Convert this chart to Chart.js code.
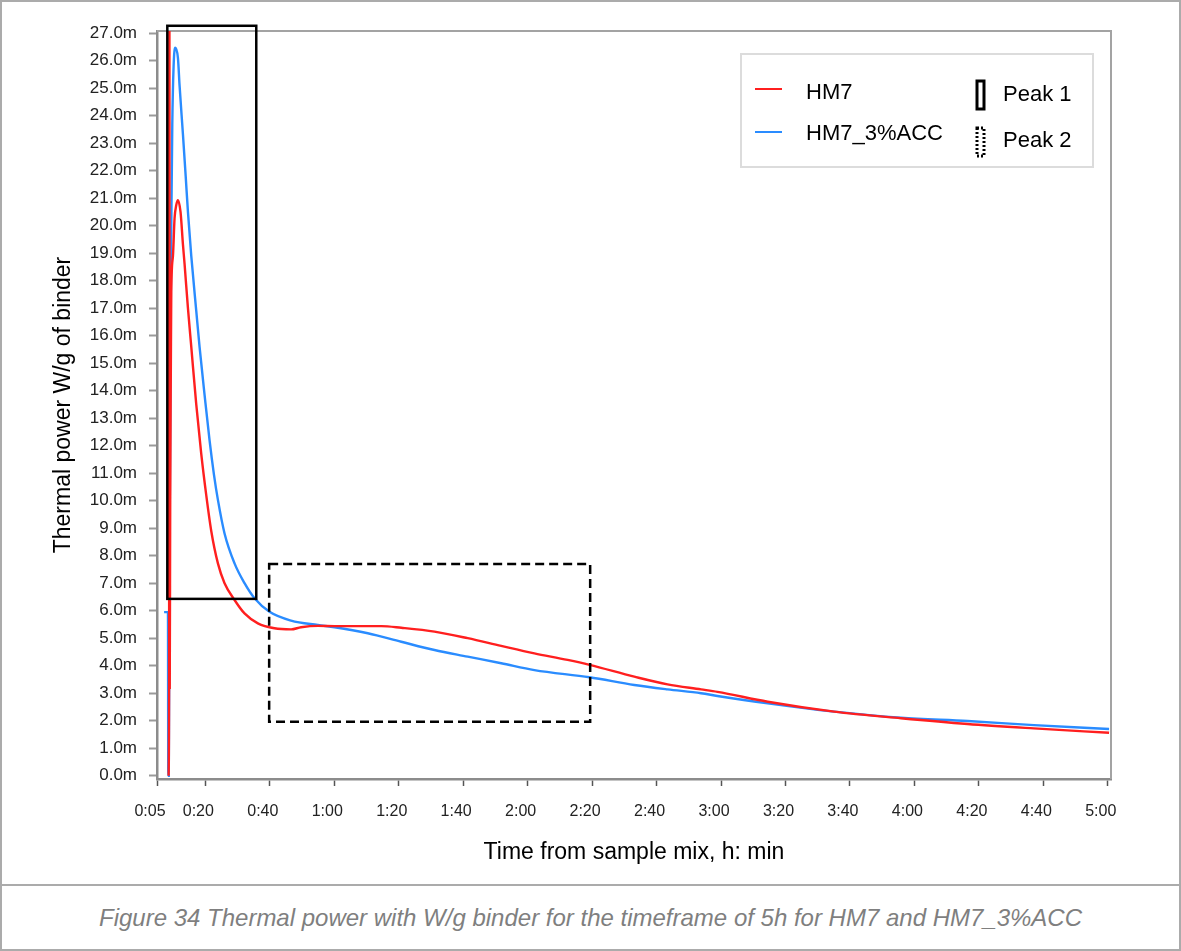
<!DOCTYPE html>
<html>
<head>
<meta charset="utf-8">
<title>Thermal power HM7</title>
<script src="https://cdn.jsdelivr.net/npm/chart.js@4.4.1/dist/chart.umd.min.js"></script>
<style>
body { margin: 0; background: #fff; }
#frame { position: absolute; left: 0; top: 0; width: 1181px; height: 951px; box-sizing: border-box; border: 2px solid #ababab; }
#sep { position: absolute; left: 0; top: 884px; width: 1181px; height: 2px; background: #ababab; }
#plot { position: absolute; left: 0; top: 0; width: 1181px; height: 884px; }
#caption { position: absolute; left: 0; top: 886px; width: 1181px; height: 63px; text-align: center;
  font: italic 24px "Liberation Sans", Arial, sans-serif; line-height: 63px; color: #7f7f7f; }
</style>
</head>
<body>
<div id="frame"></div>
<div id="sep"></div>
<div id="plot"><canvas id="myChart"></canvas></div>
<div id="caption">Figure 34 Thermal power with W/g binder for the timeframe of 5h for HM7 and HM7_3%ACC</div>
<script>
// time from mixing in minutes, thermal power in mW/g binder
const hm7Time = [8.6, 8.75, 8.85, 8.95, 9.1, 9.3, 9.43, 9.95, 10.45, 10.98, 11.5, 12.3, 13.06, 13.56, 14.6, 15.63,
    17.18, 18.73, 20.28, 21.83, 23.9, 25.96, 29.06, 32.16, 36.3, 41.45, 46.6, 49.7, 55, 60.1, 74.6, 80.8, 91.1,
    101.4, 111.8, 122.1, 132.4, 139.2, 153.1, 163.4, 173.8, 178.9, 194.5, 215.1, 235.8, 256.5, 277.1, 300.4];
const hm7Power = [0, 3.1, 27.6, 3.2, 10, 15, 17.6, 18.9, 20.27, 20.75, 20.93, 20.5, 19.3, 18.6, 17.0, 15.6,
    13.5, 11.7, 10.2, 8.9, 7.72, 7.0, 6.39, 5.9, 5.54, 5.36, 5.32, 5.4, 5.45, 5.44, 5.44, 5.38, 5.24,
    5.0, 4.72, 4.45, 4.21, 4.03, 3.6, 3.32, 3.14, 3.05, 2.69, 2.33, 2.09, 1.88, 1.72, 1.56];

const accTime = [7.2, 8.4, 8.5, 8.65, 8.9, 9.1, 9.25, 9.43, 9.74, 10.15, 10.67, 11.5, 12.0, 13.06, 13.9, 14.6,
    15.63, 17.18, 18.2, 19.76, 21.3, 22.67, 23.9, 25.96, 29.06, 32.16, 35.26, 39.9, 46.6, 54.9, 60.1, 70.4, 80.8, 91.1,
    101.4, 111.8, 122.1, 139.2, 153.1, 163.4, 173.8, 178.9, 194.5, 215.1, 235.8, 256.5, 277.1, 300.4];
const accPower = [5.95, 5.95, 0, 0, 8, 13, 16.6, 20.0, 23.66, 25.8, 26.47, 26.09, 25.1, 23.3, 21.8, 20.5,
    18.9, 16.9, 15.6, 13.85, 12.2, 10.95, 10.03, 8.81, 7.72, 7.0, 6.45, 5.96, 5.64, 5.48, 5.40, 5.18, 4.87, 4.57,
    4.33, 4.09, 3.84, 3.58, 3.30, 3.14, 3.0, 2.9, 2.63, 2.33, 2.11, 1.99, 1.84, 1.70];

const xTickMinutes = [5, 20, 40, 60, 80, 100, 120, 140, 160, 180, 200, 220, 240, 260, 280, 300];
const yTickValues = [0, 1, 2, 3, 4, 5, 6, 7, 8, 9, 10, 11, 12, 13, 14, 15, 16, 17, 18, 19, 20, 21, 22, 23, 24, 25, 26, 27];

// peak windows: [start, end] minutes and [low, high] mW/g
const peak1Time = [8.2, 35.8];
const peak1Power = [6.43, 27.27];
const peak2Time = [39.8, 139.4];
const peak2Power = [1.96, 7.7];

const FONT = '"Liberation Sans", Arial, sans-serif';

function toHourMin(m) {
    const h = Math.floor(m / 60);
    const mm = Math.round(m - h * 60);
    return h + ':' + String(mm).padStart(2, '0');
}

function points(ts, vs) {
    return ts.map((t, i) => ({ x: t, y: vs[i] }));
}

const extras = {
    id: 'extras',
    beforeDatasetsDraw(chart) {
        // light frame on top and right of the plot area
        const { ctx, chartArea: a } = chart;
        ctx.save();
        ctx.strokeStyle = '#a3a3a3';
        ctx.lineWidth = 2;
        ctx.beginPath();
        ctx.moveTo(a.left, a.top);
        ctx.lineTo(a.right, a.top);
        ctx.lineTo(a.right, a.bottom);
        ctx.stroke();
        ctx.restore();
    },
    afterDatasetsDraw(chart) {
        const { ctx, scales: { x, y } } = chart;
        const box = (t, p, dash) => {
            const x0 = x.getPixelForValue(t[0]), x1 = x.getPixelForValue(t[1]);
            const y0 = y.getPixelForValue(p[1]), y1 = y.getPixelForValue(p[0]);
            ctx.save();
            ctx.strokeStyle = '#000';
            ctx.lineWidth = 2.5;
            ctx.setLineDash(dash);
            ctx.strokeRect(x0, y0, x1 - x0, y1 - y0);
            ctx.restore();
        };
        box(peak1Time, peak1Power, []);
        box(peak2Time, peak2Power, [9, 5]);
    },
    afterDraw(chart) {
        // legend: series on the left, peak boxes on the right
        const ctx = chart.ctx;
        const ds = chart.data.datasets;
        ctx.save();
        ctx.strokeStyle = '#dcdcdc';
        ctx.lineWidth = 2;
        ctx.strokeRect(741, 54, 352, 113);

        ctx.font = '22px ' + FONT;
        ctx.fillStyle = '#000';
        ctx.textBaseline = 'middle';
        ctx.lineWidth = 2;
        [[89, 93], [132, 134]].forEach((row, i) => {
            ctx.strokeStyle = ds[i].borderColor;
            ctx.beginPath();
            ctx.moveTo(755, row[0]);
            ctx.lineTo(782, row[0]);
            ctx.stroke();
            ctx.fillText(ds[i].label, 806, row[1]);
        });

        ctx.strokeStyle = '#000';
        ctx.lineWidth = 3;
        ctx.strokeRect(977, 81, 7, 28);
        ctx.fillText('Peak 1', 1003, 95);
        ctx.setLineDash([2, 2]);
        ctx.strokeRect(977, 128, 7, 28);
        ctx.setLineDash([]);
        ctx.fillText('Peak 2', 1003, 141);
        ctx.restore();
    }
};

new Chart(document.getElementById('myChart'), {
    type: 'line',
    data: {
        datasets: [{
            label: 'HM7',
            data: points(hm7Time, hm7Power),
            borderColor: '#ff1f1f',
            borderWidth: 2.4,
            pointRadius: 0,
            cubicInterpolationMode: 'monotone'
        }, {
            label: 'HM7_3%ACC',
            data: points(accTime, accPower),
            borderColor: '#2a8cff',
            borderWidth: 2.4,
            pointRadius: 0,
            cubicInterpolationMode: 'monotone'
        }]
    },
    options: {
        responsive: true,
        maintainAspectRatio: false,
        animation: false,
        devicePixelRatio: 1,
        events: [],
        layout: { padding: { top: 31, right: 70, left: 0, bottom: 0 } },
        plugins: { legend: { display: false }, tooltip: { enabled: false } },
        scales: {
            x: {
                type: 'linear',
                min: 5,
                max: 301,
                afterBuildTicks: s => { s.ticks = xTickMinutes.map(v => ({ value: v })); },
                afterFit: s => { s.height = 105; },
                ticks: {
                    callback: v => toHourMin(v),
                    font: { family: FONT, size: 16 },
                    color: '#222',
                    padding: 16,
                    labelOffset: -7,
                    maxRotation: 0,
                    autoSkip: false
                },
                grid: { drawOnChartArea: false, tickLength: 7, tickColor: '#555', tickWidth: 1.5 },
                border: { color: '#8c8c8c', width: 2.5 },
                title: {
                    display: true,
                    text: 'Time from sample mix, h: min',
                    font: { family: FONT, size: 23 },
                    color: '#000',
                    padding: { top: 0, bottom: 18 }
                }
            },
            y: {
                min: -0.12,
                max: 27.08,
                afterBuildTicks: s => { s.ticks = yTickValues.map(v => ({ value: v })); },
                afterFit: s => { s.width = 157; },
                ticks: {
                    callback: v => v.toFixed(1) + 'm',
                    font: { family: FONT, size: 17 },
                    color: '#222',
                    padding: 12
                },
                grid: { drawOnChartArea: false, tickLength: 8, tickColor: '#9a9a9a', tickWidth: 2 },
                border: { color: '#8c8c8c', width: 2.5 },
                title: {
                    display: true,
                    text: 'Thermal power W/g of binder',
                    font: { family: FONT, size: 23 },
                    color: '#000',
                    padding: { top: 50, bottom: 0 }
                }
            }
        }
    },
    plugins: [extras]
});
</script>
</body>
</html>
